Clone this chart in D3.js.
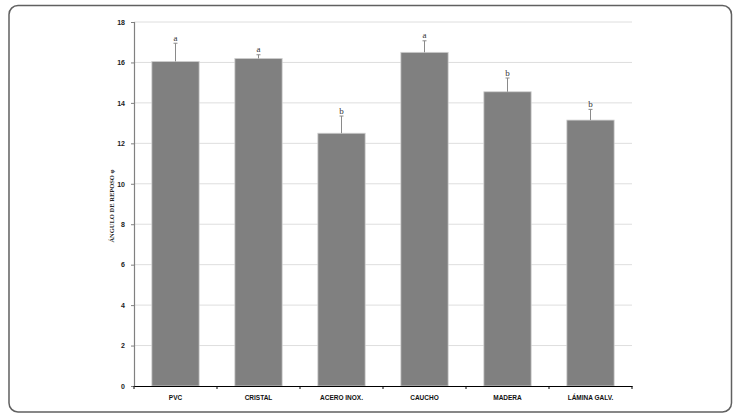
<!DOCTYPE html>
<html><head><meta charset="utf-8">
<script src="https://cdn.jsdelivr.net/npm/d3@7"></script>
<style>body{margin:0;background:#fff}svg{display:block}</style>
</head><body>
<script>
const categories = ["PVC","CRISTAL","ACERO INOX.","CAUCHO","MADERA","LÁMINA GALV."];
const values = [16.05, 16.2, 12.5, 16.5, 14.55, 13.15];
const errors = [0.9, 0.18, 0.85, 0.57, 0.68, 0.53];
const letters = ["a","a","b","a","b","b"];
const yTicks = [0,2,4,6,8,10,12,14,16,18];
const yLabel = "ÁNGULO DE REPOSO φ";

const W = 736, H = 417;
const svg = d3.select("body").append("svg").attr("width", W).attr("height", H);
svg.append("rect").attr("x", 9).attr("y", 5.5).attr("width", 722.5).attr("height", 406.5)
  .attr("rx", 9).attr("fill", "#fff").attr("stroke", "#606060").attr("stroke-width", 1.5);

const L = 134, R = 632, T = 22, B = 386;
const x = d3.scaleBand().domain(categories).range([L, R]).paddingInner(0.43).paddingOuter(0.215);
const y = d3.scaleLinear().domain([0, 18]).range([B, T]);

// gridlines
svg.append("g").selectAll("line").data(yTicks.filter(d => d > 0)).join("line")
  .attr("x1", L).attr("x2", R).attr("y1", d => y(d)).attr("y2", d => y(d))
  .attr("stroke", "#dedede").attr("stroke-width", 1);

// bars
svg.append("g").selectAll("rect").data(categories).join("rect")
  .attr("x", d => x(d)).attr("width", x.bandwidth())
  .attr("y", (d, i) => y(values[i])).attr("height", (d, i) => B - y(values[i]))
  .attr("fill", "#808080").attr("stroke", "#d0d0d0").attr("stroke-width", 0.8);

// error bars
const eg = svg.append("g").attr("stroke", "#8a8a8a").attr("stroke-width", 1);
categories.forEach((c, i) => {
  const cx = x(c) + x.bandwidth() / 2;
  eg.append("line").attr("x1", cx).attr("x2", cx).attr("y1", y(values[i])).attr("y2", y(values[i] + errors[i]));
  eg.append("line").attr("x1", cx - 2).attr("x2", cx + 2).attr("y1", y(values[i] + errors[i])).attr("y2", y(values[i] + errors[i]));
});

// letters
svg.append("g").selectAll("text").data(categories).join("text")
  .attr("x", d => x(d) + x.bandwidth() / 2)
  .attr("y", (d, i) => y(values[i] + errors[i]) - 2.5)
  .attr("text-anchor", "middle").attr("font-family", "Liberation Serif, serif")
  .attr("font-size", 9).attr("fill", "#333").text((d, i) => letters[i]);

// y axis
const ya = svg.append("g").attr("transform", `translate(${L},0)`)
  .call(d3.axisLeft(y).tickValues(yTicks).tickSize(3).tickPadding(6));
ya.select(".domain").attr("stroke", "#808080").attr("stroke-width", 1.2);
ya.selectAll(".tick line").attr("stroke", "#808080");
ya.selectAll("text").attr("font-family", "Liberation Sans, Arial, sans-serif").attr("font-weight", "bold")
  .attr("font-size", 7).attr("fill", "#222");

// x axis
const xa = svg.append("g").attr("transform", `translate(0,${B})`)
  .call(d3.axisBottom(x).tickSize(0).tickPadding(9));
xa.select(".domain").attr("stroke", "#000").attr("stroke-width", 1.2);
xa.selectAll("text").attr("font-family", "Liberation Sans, Arial, sans-serif").attr("font-weight", "bold")
  .attr("font-size", 6.5).attr("fill", "#111");
// boundary ticks
svg.append("g").selectAll("line").data(d3.range(categories.length + 1)).join("line")
  .attr("x1", i => L + i * (R - L) / categories.length).attr("x2", i => L + i * (R - L) / categories.length)
  .attr("y1", B).attr("y2", B + 3).attr("stroke", "#000");

// y label
svg.append("text").attr("transform", `translate(114,206) rotate(-90)`)
  .attr("text-anchor", "middle").attr("font-family", "Liberation Serif, serif").attr("font-weight", "bold")
  .attr("font-size", 6.5).attr("fill", "#222").text(yLabel);
</script>
</body></html>
